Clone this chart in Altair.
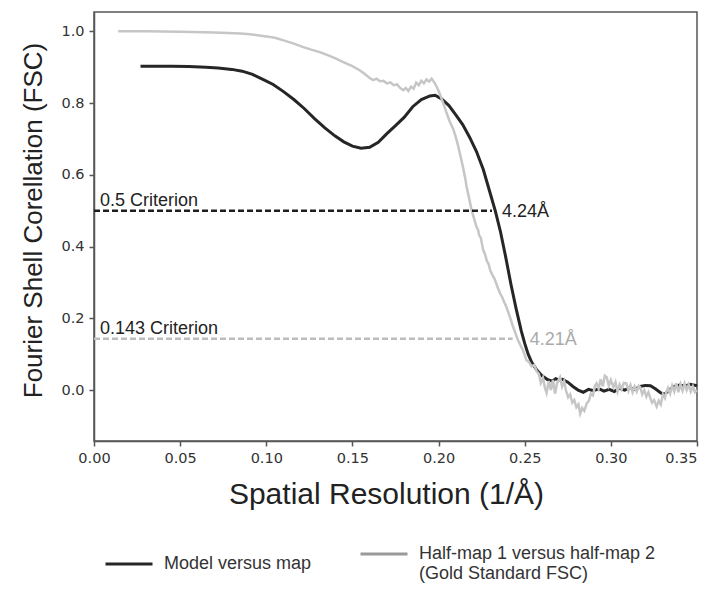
import altair as alt
import pandas as pd

# ---- data ----
model_x = [0.027, 0.035, 0.045, 0.055, 0.065, 0.072, 0.080, 0.086, 0.092, 0.098,
           0.104, 0.110, 0.116, 0.122, 0.128, 0.134, 0.140, 0.145, 0.150, 0.155,
           0.160, 0.165, 0.170, 0.175, 0.180, 0.185, 0.190, 0.195, 0.198, 0.202,
           0.206, 0.210, 0.214, 0.218, 0.222, 0.226, 0.230, 0.233, 0.236, 0.239,
           0.242, 0.245, 0.248, 0.250, 0.252, 0.254, 0.257, 0.260, 0.263, 0.266,
           0.268, 0.270, 0.272, 0.275, 0.278, 0.281, 0.284, 0.287, 0.290, 0.293,
           0.296, 0.299, 0.302, 0.305, 0.308, 0.311, 0.314, 0.317, 0.320, 0.323,
           0.326, 0.329, 0.331, 0.334, 0.337, 0.340, 0.343, 0.346, 0.350]
model_y = [0.903, 0.903, 0.903, 0.902, 0.900, 0.898, 0.894, 0.889, 0.880, 0.866,
           0.852, 0.832, 0.810, 0.785, 0.757, 0.731, 0.708, 0.692, 0.680, 0.674,
           0.677, 0.691, 0.715, 0.737, 0.760, 0.790, 0.810, 0.820, 0.822, 0.811,
           0.793, 0.767, 0.740, 0.705, 0.665, 0.614, 0.548, 0.498, 0.440, 0.370,
           0.295, 0.227, 0.165, 0.130, 0.100, 0.078, 0.056, 0.040, 0.030, 0.025,
           0.032, 0.028, 0.030, 0.022, 0.010, 0.000, -0.006, 0.002, -0.002, 0.004,
           -0.003, 0.002, -0.004, 0.005, 0.000, 0.006, 0.002, 0.010, 0.013, 0.012,
           0.003, -0.008, -0.012, 0.000, 0.010, 0.014, 0.011, 0.016, 0.012]

half_x = [0.014, 0.030, 0.050, 0.070, 0.085, 0.0905, 0.100, 0.105, 0.110, 0.116,
          0.1215, 0.126, 0.131, 0.136, 0.1405, 0.1447, 0.150, 0.1544, 0.157, 0.160,
          0.162, 0.164, 0.166, 0.168, 0.170, 0.172, 0.174, 0.176, 0.1775, 0.1795,
          0.181, 0.1825, 0.184, 0.1855, 0.187, 0.1885, 0.190, 0.1915, 0.193, 0.1945,
          0.196, 0.1975, 0.199, 0.2005, 0.2027, 0.2045, 0.2065, 0.2085, 0.210, 0.2115,
          0.2124, 0.214, 0.2155, 0.2163, 0.2175, 0.2192, 0.2205, 0.222, 0.223, 0.2235,
          0.2245, 0.2258, 0.227, 0.228, 0.229, 0.230, 0.2315, 0.2325, 0.234, 0.2357,
          0.237, 0.238, 0.2395, 0.2414, 0.243, 0.2445, 0.246, 0.2475, 0.249, 0.251,
          0.2525, 0.254, 0.2555, 0.257, 0.2582, 0.2594, 0.2606, 0.2618, 0.2627, 0.2640,
          0.2652, 0.2664, 0.2676, 0.2688, 0.2705, 0.2717, 0.2729, 0.2740, 0.2752, 0.2764,
          0.2776, 0.2788, 0.2800, 0.2812, 0.2822, 0.2834, 0.2846, 0.2860, 0.2872, 0.2884,
          0.2896, 0.2908, 0.2917, 0.2929, 0.2941, 0.2953, 0.2965, 0.2976, 0.2988, 0.3000,
          0.3015, 0.3027, 0.3039, 0.3051, 0.3063, 0.3075, 0.3090, 0.3102, 0.3114, 0.3126,
          0.3138, 0.3150, 0.3162, 0.3170, 0.3182, 0.3194, 0.3206, 0.3218, 0.3227, 0.3239,
          0.3251, 0.3266, 0.3278, 0.3290, 0.3302, 0.3314, 0.3320, 0.3332, 0.3344, 0.3356,
          0.3368, 0.3380, 0.3392, 0.3404, 0.3416, 0.3428, 0.3440, 0.3452, 0.3464, 0.3476,
          0.3488, 0.3500]
half_y = [1.000, 1.000, 0.999, 0.997, 0.994, 0.992, 0.986, 0.982, 0.975, 0.966,
          0.956, 0.949, 0.942, 0.933, 0.924, 0.914, 0.903, 0.891, 0.882, 0.870,
          0.864, 0.868, 0.861, 0.862, 0.855, 0.858, 0.850, 0.852, 0.843, 0.836,
          0.842, 0.834, 0.846, 0.840, 0.857, 0.850, 0.862, 0.855, 0.866, 0.860,
          0.868, 0.858, 0.845, 0.828, 0.800, 0.775, 0.748, 0.728, 0.705, 0.678,
          0.659, 0.625, 0.590, 0.566, 0.540, 0.501, 0.480, 0.455, 0.446, 0.432,
          0.425, 0.392, 0.378, 0.360, 0.352, 0.334, 0.318, 0.310, 0.290, 0.270,
          0.258, 0.246, 0.230, 0.204, 0.180, 0.160, 0.140, 0.125, 0.111, 0.083,
          0.078, 0.066, 0.070, 0.052, 0.045, 0.020, 0.034, 0.005, -0.008, 0.025,
          0.000, 0.028, -0.010, 0.020, 0.036, 0.010, 0.025, -0.002, -0.020, -0.012,
          -0.035, -0.028, -0.048, -0.040, -0.066, -0.050, -0.058, -0.037, -0.030, -0.010,
          -0.015, 0.012, 0.019, 0.004, 0.030, 0.010, 0.040, 0.036, 0.012, 0.028,
          0.008, 0.022, -0.004, 0.015, 0.002, 0.020, 0.019, -0.002, 0.014, -0.006,
          0.010, -0.004, 0.012, 0.008, -0.012, 0.000, -0.018, -0.006, -0.019, -0.035,
          -0.028, -0.046, -0.030, -0.040, -0.012, -0.022, -0.008, 0.006, -0.010, 0.012,
          -0.004, 0.019, -0.006, 0.016, -0.002, 0.018, 0.000, 0.015, -0.004, 0.010,
          -0.006, 0.000]

series_names = ["Model versus map", "Half-map 1 versus half-map 2|(Gold Standard FSC)"]
criteria_values = [0.5, 0.143]
criteria_names = ["0.5 Criterion", "0.143 Criterion"]
criteria_cut = [0.231, 0.243]
res_labels = ["4.24Å", "4.21Å"]
x_ticks = [0.0, 0.05, 0.10, 0.15, 0.20, 0.25, 0.30, 0.35]
y_ticks = [0.0, 0.2, 0.4, 0.6, 0.8, 1.0]

# ---- tables ----
model_df = pd.DataFrame({"x": model_x, "y": model_y, "series": series_names[0]})
half_df = pd.DataFrame({"x": half_x, "y": half_y, "series": series_names[1]})
all_df = pd.concat([model_df, half_df], ignore_index=True)
crit_df = pd.DataFrame({"y": criteria_values, "x0": [0.0, 0.0], "x1": criteria_cut,
                        "name": criteria_names, "res": res_labels})

xs = alt.Scale(domain=[0, 0.35], nice=False, zero=False)
ys = alt.Scale(domain=[-0.142, 1.054], nice=False, zero=False)

X = alt.X("x:Q", scale=xs, title="Spatial Resolution (1/Å)",
          axis=alt.Axis(values=x_ticks, format=".2f", titlePadding=15,
                        titleFontSize=30, titleX=292, titleAlign="center",
                        labelAlign={"condition": {"test": "datum.value >= 0.349",
                                                  "value": "right"},
                                    "value": "center"}))
Y = alt.Y("y:Q", scale=ys, title="Fourier Shell Corellation (FSC)",
          axis=alt.Axis(values=y_ticks, format=".1f", titlePadding=14,
                        titleFontSize=26, titleY=208, titleAlign="center"))

model_line = alt.Chart(model_df).mark_line(color="#262626", strokeWidth=3).encode(x=X, y=Y)
half_line = alt.Chart(half_df).mark_line(color="#c6c6c6", strokeWidth=2.5).encode(x="x:Q", y="y:Q")

legend_layer = alt.Chart(all_df).mark_line(opacity=0).encode(
    x="x:Q", y="y:Q",
    color=alt.Color("series:N",
                    scale=alt.Scale(domain=series_names, range=["#262626", "#9a9a9a"]),
                    legend=alt.Legend(
                        title=None, orient="none", legendX=10, legendY=522,
                        direction="horizontal", columns=2, columnPadding=42,
                        symbolType="M-1,-0.21H1", symbolSize=2209, symbolStrokeWidth=3,
                        symbolOpacity=1, labelOffset=10, labelLimit=400,
                        labelFont="Liberation Sans", labelFontSize=18, labelColor="#333333",
                        labelBaseline="alphabetic", padding=0,
                        labelExpr="split(datum.label, '|')")))

crit1 = crit_df.iloc[[0]]
crit2 = crit_df.iloc[[1]]

rule1 = alt.Chart(crit1).mark_rule(color="#1e1e1e", strokeWidth=2.5, strokeDash=[6, 3]).encode(
    x="x0:Q", x2="x1:Q", y="y:Q")
rule2 = alt.Chart(crit2).mark_rule(color="#bdbdbd", strokeWidth=2.5, strokeDash=[6, 3]).encode(
    x="x0:Q", x2="x1:Q", y="y:Q")

name_text = alt.Chart(crit_df).mark_text(
    align="left", baseline="alphabetic", dx=6, dy=-5, font="Liberation Sans",
    fontSize=18, color="#222222").encode(x="x0:Q", y="y:Q", text="name:N")

res1 = alt.Chart(crit1).mark_text(
    align="left", baseline="middle", dx=10, dy=1, font="Liberation Sans",
    fontSize=18, color="#222222").encode(x="x1:Q", y="y:Q", text="res:N")
res2 = alt.Chart(crit2).mark_text(
    align="left", baseline="middle", dx=17, dy=1, font="Liberation Sans",
    fontSize=18, color="#aaaaaa").encode(x="x1:Q", y="y:Q", text="res:N")

chart = alt.layer(
    model_line, half_line, legend_layer, rule1, rule2, name_text, res1, res2
).properties(
    width=603, height=429,
    autosize=alt.AutoSizeParams(type="none"),
    padding={"left": 86, "top": 4, "right": 10, "bottom": 150},
    background="white",
).configure_axis(
    grid=False, domainColor="#555555", domainWidth=1.5, tickColor="#555555",
    tickWidth=1.5, tickSize=5, labelPadding=5, labelFlush=False,
    labelFont="DejaVu Sans", labelFontSize=14.5, labelColor="#333333",
    titleFont="Liberation Sans", titleFontSize=27, titleFontWeight="normal",
    titleColor="#222222",
).configure_view(stroke="#555555", strokeWidth=1.5)

chart.save("out.html", embed_options={"renderer": "svg", "actions": False})
